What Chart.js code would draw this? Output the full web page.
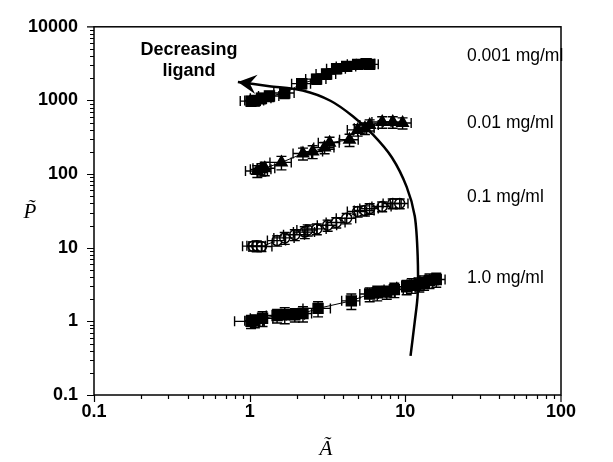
<!DOCTYPE html>
<html>
<head>
<meta charset="utf-8">
<script src="https://cdn.jsdelivr.net/npm/chart.js@4/dist/chart.umd.min.js"></script>
<style>
  html, body { margin: 0; padding: 0; background: #fff; }
</style>
</head>
<body>
<canvas id="grafico" width="613" height="462"></canvas>
<script>
// rotulos das series (concentracoes)
const concentracoes = ['0.001 mg/ml', '0.01 mg/ml', '0.1 mg/ml', '1.0 mg/ml'];

// ticks com rotulo
const ticksA = [0.1, 1, 10, 100];
const ticksP = [0.1, 1, 10, 100, 1000, 10000];

// 0.001 mg/ml
const a_0001 = [1.02, 1.08, 1.19, 1.34, 1.68, 2.16, 2.69, 3.12, 3.62, 4.2, 4.94, 5.6, 5.9];
const p_0001 = [980, 1000, 1072, 1148, 1259, 1690, 1950, 2290, 2700, 2900, 3090, 3150, 3090];
const ea_0001 = [0.15, 0.15, 0.18, 0.2, 0.25, 0.3, 0.4, 0.45, 0.5, 0.6, 0.7, 0.75, 0.8];
const ep_0001 = [150, 160, 170, 180, 200, 250, 300, 350, 400, 420, 450, 450, 450];

// 0.01 mg/ml
const a_001 = [1.12, 1.19, 1.25, 1.6, 2.2, 2.54, 3.03, 3.26, 4.38, 4.94, 5.5, 5.9, 7.1, 8.3, 9.6];
const p_001 = [110, 116, 120, 144, 190, 202, 229, 267, 292, 398, 420, 464, 510, 510, 495];
const ea_001 = [0.18, 0.18, 0.2, 0.25, 0.3, 0.4, 0.45, 0.5, 0.6, 0.7, 0.8, 0.8, 1.0, 1.1, 1.3];
const ep_001 = [20, 22, 25, 30, 35, 40, 40, 50, 55, 70, 75, 80, 90, 90, 85];

// 0.1 mg/ml
const a_01 = [1.05, 1.11, 1.19, 1.5, 1.68, 1.95, 2.26, 2.36, 2.7, 3.17, 3.6, 4.2, 4.94, 5.5, 5.9, 7.1, 8.3, 9.2];
const p_01 = [10.5, 10.6, 10.4, 12.5, 13.6, 15, 16.3, 17.4, 18, 20.2, 22, 25.1, 31, 32, 34, 36.3, 39.8, 39.8];
const ea_01 = [0.15, 0.15, 0.2, 0.2, 0.25, 0.3, 0.35, 0.35, 0.4, 0.45, 0.5, 0.6, 0.7, 0.8, 0.8, 1.0, 1.1, 1.2];
const ep_01 = [1.5, 1.8, 1.5, 2, 2.5, 2.5, 3, 3, 3, 3.5, 3.5, 4, 5, 5, 5.5, 5.5, 6, 6];

// 1.0 mg/ml
const a_10 = [1.02, 1.08, 1.21, 1.5, 1.68, 1.95, 2.2, 2.75, 4.5, 5.9, 6.6, 7.6, 8.5, 10.2, 11.0, 12.3, 13.2, 14.3, 15.8];
const p_10 = [1.0, 1.02, 1.1, 1.2, 1.23, 1.23, 1.28, 1.5, 1.9, 2.35, 2.45, 2.5, 2.7, 2.95, 3.1, 3.2, 3.4, 3.6, 3.7];
const ea_10 = [0.22, 0.15, 0.2, 0.22, 0.25, 0.3, 0.3, 0.55, 0.6, 0.8, 0.9, 1.0, 1.2, 1.4, 1.5, 1.6, 1.8, 1.9, 2.2];
const ep_10 = [0.2, 0.2, 0.25, 0.25, 0.3, 0.25, 0.3, 0.35, 0.45, 0.5, 0.55, 0.5, 0.6, 0.65, 0.7, 0.7, 0.75, 0.8, 0.8];

// curva "Decreasing ligand" (de baixo ate a ponta da seta)
const curvaA = [10.8, 11.5, 12.0, 12.0, 11.5, 10.2, 8.2, 6.2, 4.6, 3.3, 2.19, 1.34, 0.84];
const curvaP = [0.34, 1.0, 2.29, 7.8, 26.7, 67, 168, 343, 610, 990, 1363, 1563, 1777];

const series = [
    { nome: concentracoes[0], a: a_0001, p: p_0001, ea: ea_0001, ep: ep_0001, estilo: 'rect', raio: 7, fundo: '#000' },
    { nome: concentracoes[1], a: a_001, p: p_001, ea: ea_001, ep: ep_001, estilo: 'triangle', raio: 6.5, fundo: '#000' },
    { nome: concentracoes[2], a: a_01, p: p_01, ea: ea_01, ep: ep_01, estilo: 'circle', raio: 5, fundo: '#fff' },
    { nome: concentracoes[3], a: a_10, p: p_10, ea: ea_10, ep: ep_10, estilo: 'rect', raio: 7, fundo: '#000' }
];

function juntar(xs, ys) {
    return xs.map((x, i) => ({ x: x, y: ys[i] }));
}

const datasets = [{
    label: 'curva',
    data: juntar(curvaA, curvaP),
    showLine: true,
    borderColor: '#000',
    borderWidth: 2.5,
    pointRadius: 0,
    tension: 0.3,
    fill: false
}];

series.forEach(s => {
    datasets.push({
        label: s.nome,
        data: juntar(s.a, s.p),
        showLine: true,
        borderColor: '#000',
        borderWidth: 1,
        pointStyle: s.estilo,
        pointRadius: s.raio,
        pointBackgroundColor: s.fundo,
        pointBorderColor: '#000',
        pointBorderWidth: 1.5,
        tension: 0
    });
});

const pluginExtras = {
    id: 'extras',
    afterDatasetsDraw(chart) {
        const ctx = chart.ctx;
        const sx = chart.scales.x, sy = chart.scales.y;
        ctx.save();
        ctx.strokeStyle = '#000';
        ctx.lineWidth = 1.4;
        // barras de erro
        series.forEach(s => {
            s.a.forEach((a, i) => {
                const px = sx.getPixelForValue(a), py = sy.getPixelForValue(s.p[i]);
                const x0 = sx.getPixelForValue(a - s.ea[i]), x1 = sx.getPixelForValue(a + s.ea[i]);
                const y0 = sy.getPixelForValue(s.p[i] - s.ep[i]), y1 = sy.getPixelForValue(s.p[i] + s.ep[i]);
                ctx.beginPath();
                ctx.moveTo(x0, py); ctx.lineTo(x1, py);
                ctx.moveTo(x0, py - 5); ctx.lineTo(x0, py + 5);
                ctx.moveTo(x1, py - 5); ctx.lineTo(x1, py + 5);
                ctx.moveTo(px, y0); ctx.lineTo(px, y1);
                ctx.moveTo(px - 5, y0); ctx.lineTo(px + 5, y0);
                ctx.moveTo(px - 5, y1); ctx.lineTo(px + 5, y1);
                ctx.stroke();
            });
        });
        // ponta da seta na curva
        const pts = chart.getDatasetMeta(0).data;
        const ult = pts[pts.length - 1], pen = pts[pts.length - 2];
        const ang = Math.atan2(pen.y - ult.y, pen.x - ult.x);
        const L = 21, abre = 0.48;
        ctx.fillStyle = '#000';
        ctx.beginPath();
        ctx.moveTo(ult.x, ult.y);
        ctx.lineTo(ult.x + L * Math.cos(ang - abre), ult.y + L * Math.sin(ang - abre));
        ctx.lineTo(ult.x + 12 * Math.cos(ang), ult.y + 12 * Math.sin(ang));
        ctx.lineTo(ult.x + L * Math.cos(ang + abre), ult.y + L * Math.sin(ang + abre));
        ctx.closePath();
        ctx.fill();
        ctx.restore();
    },
    afterDraw(chart) {
        const ctx = chart.ctx;
        const area = chart.chartArea;
        const sx = chart.scales.x, sy = chart.scales.y;
        ctx.save();
        ctx.strokeStyle = '#000';
        ctx.lineWidth = 1.5;
        ctx.strokeRect(area.left, area.top, area.right - area.left, area.bottom - area.top);

        // marcas dos eixos (principais e secundarias)
        ctx.lineWidth = 1.2;
        ctx.beginPath();
        for (let d = 0.1; d < 100; d *= 10) {
            for (let m = 1; m <= 9; m++) {
                const px = Math.round(sx.getPixelForValue(d * m)) + 0.5;
                const len = m === 1 ? 7 : 4;
                ctx.moveTo(px, area.bottom); ctx.lineTo(px, area.bottom + len);
            }
        }
        ctx.moveTo(area.right, area.bottom); ctx.lineTo(area.right, area.bottom + 7);
        for (let d = 0.1; d < 10000; d *= 10) {
            for (let m = 1; m <= 9; m++) {
                const py = Math.round(sy.getPixelForValue(d * m)) + 0.5;
                const len = m === 1 ? 7 : 4;
                ctx.moveTo(area.left, py); ctx.lineTo(area.left - len, py);
            }
        }
        ctx.moveTo(area.left, area.top); ctx.lineTo(area.left - 7, area.top);
        ctx.stroke();

        // titulos dos eixos
        ctx.fillStyle = '#000';
        ctx.textAlign = 'center';
        ctx.textBaseline = 'middle';
        ctx.font = 'italic 21px "Liberation Serif", "DejaVu Serif", serif';
        ctx.fillText('P\u0303', 30, 212);
        ctx.fillText('A\u0303', 326, 449);

        // anotacoes
        ctx.font = 'bold 18px "Liberation Sans", Arial, sans-serif';
        ctx.fillText('Decreasing', 189, 50);
        ctx.fillText('ligand', 189, 71);

        ctx.textAlign = 'left';
        ctx.font = '17.5px "Liberation Sans", Arial, sans-serif';
        const yRotulos = [56, 123, 197, 278];
        concentracoes.forEach((c, i) => ctx.fillText(c, 467, yRotulos[i]));
        ctx.restore();
    }
};

const fonteTicks = { family: '"Liberation Sans", Arial, sans-serif', size: 18, weight: 'bold' };

new Chart(document.getElementById('grafico'), {
    type: 'scatter',
    data: { datasets: datasets },
    options: {
        responsive: false,
        animation: false,
        devicePixelRatio: 1,
        layout: { padding: { top: 20, right: 52, left: 0, bottom: 0 } },
        plugins: { legend: { display: false }, tooltip: { enabled: false } },
        scales: {
            x: {
                type: 'logarithmic',
                min: 0.1,
                max: 100,
                afterBuildTicks: (scale) => { scale.ticks = ticksA.map(v => ({ value: v })); },
                afterFit: (scale) => { scale.height = 67; },
                grid: { display: false, drawTicks: false },
                border: { display: false },
                ticks: { color: '#000', font: fonteTicks, padding: 6, maxRotation: 0, autoSkip: false, callback: (v) => String(v) }
            },
            y: {
                type: 'logarithmic',
                min: 0.1,
                max: 10000,
                afterBuildTicks: (scale) => { scale.ticks = ticksP.map(v => ({ value: v })); },
                afterFit: (scale) => { scale.width = 94; },
                grid: { display: false, drawTicks: false },
                border: { display: false },
                ticks: { color: '#000', font: fonteTicks, padding: 16, autoSkip: false, callback: (v) => String(v) }
            }
        }
    },
    plugins: [pluginExtras]
});
</script>
</body>
</html>
